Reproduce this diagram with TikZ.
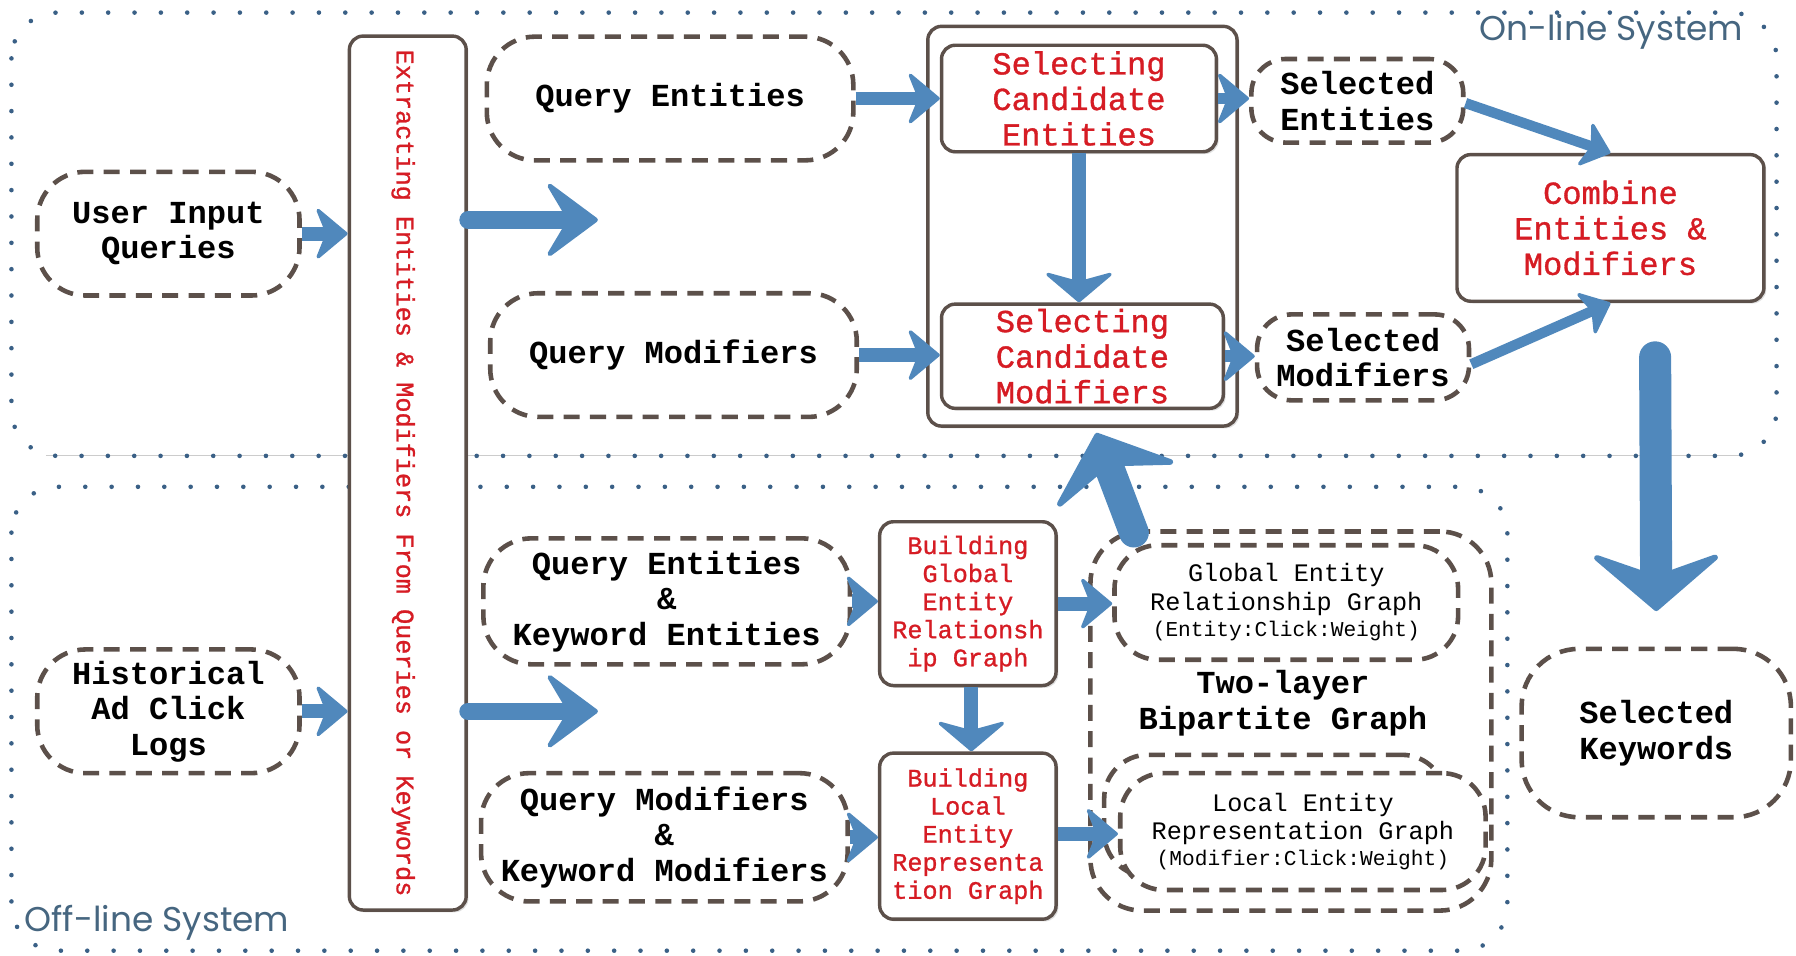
\documentclass[tikz,border=0pt]{standalone}
\usepackage{fontspec}
\setmainfont{Liberation Mono}
\newfontfamily\lblfont{Liberation Mono}
\newfontfamily\redfont{Liberation Mono}[FakeBold=1]
\newfontfamily\sysfont{Poppins}
\usetikzlibrary{arrows.meta,shadows,calc}

\definecolor{arrowblue}{RGB}{80,136,188}
\definecolor{boxline}{RGB}{92,80,74}
\definecolor{redtxt}{RGB}{214,28,36}
\definecolor{dotblue}{RGB}{58,96,134}
\definecolor{systxt}{RGB}{70,102,128}

\tikzset{
  region/.style={draw=dotblue, line width=4pt, line cap=round,
    dash pattern=on 0pt off 23pt, rounded corners=40pt},
  dashbox/.style={draw=boxline, line width=4pt, dash pattern=on 14pt off 9pt,
    rounded corners=42pt, fill=white, align=center, inner sep=0pt,
    font=\lblfont\bfseries\fontsize{28}{31}\selectfont},
  solidbox/.style={draw=boxline, line width=3pt, rounded corners=12pt,
    fill=white, align=center, inner sep=0pt, text=redtxt,
    drop shadow={shadow xshift=2pt, shadow yshift=-2pt, opacity=0.25},
    font=\redfont\fontsize{28}{31}\selectfont},
  smallbox/.style={solidbox, font=\redfont\fontsize{22}{24.5}\selectfont},
  graphbox/.style={dashbox, rounded corners=38pt,
    font=\lblfont\fontsize{22}{25}\selectfont},
  systext/.style={text=systxt, font=\sysfont\fontsize{30}{32}\selectfont, anchor=west},
  flow/.style={draw=arrowblue, line width=12pt,
    -{Stealth[round, length=30pt, width=50pt, inset=10pt, line width=3pt]}},
  bigflow/.style={draw=arrowblue, line width=15pt, line cap=round,
    -{Stealth[round, length=50pt, width=74pt, inset=22pt, line width=4pt]}},
  downflow/.style={draw=arrowblue, line width=12pt,
    -{Stealth[round, length=28pt, width=66pt, inset=9pt, line width=3pt]}},
  diagflow/.style={draw=arrowblue, line width=9pt,
    -{Stealth[round, length=26pt, width=44pt, inset=7pt, line width=3pt]}},
  hugeflow/.style={draw=arrowblue, line width=28pt, line cap=round,
    -{Stealth[round, length=54pt, width=126pt, inset=22pt, line width=5pt]}},
}

\begin{document}
\begin{tikzpicture}[x=1pt, y=-1pt]
\useasboundingbox (0,0) rectangle (1568,834);

% system regions
\draw[gray!40, line width=0.8pt] (40,398) -- (1520,398);
\draw[region] (10,11) rectangle (1551,398);
\draw[region] (10,425) rectangle (1316,830);
\node[systext] (online) at (1288,28) {On-line System};
\node[systext] (offline) at (18,806) {Off-line System};

% inputs
\node[dashbox, minimum width=229pt, minimum height=108pt] (uiq) at (147,204) {User Input\\Queries};
\node[dashbox, minimum width=229pt, minimum height=108pt] (hacl) at (147,621) {Historical\\Ad Click\\Logs};

% extraction bar
\node[solidbox, minimum width=102pt, minimum height=763pt] (ext) at (356,413) {};
\node[rotate=-90, text=redtxt, font=\redfont\fontsize{22}{24}\selectfont] (exttxt) at (352,413)
  {Extracting Entities \& Modifiers From Queries or Keywords};

% on-line branch
\node[dashbox, minimum width=320pt, minimum height=108pt] (qe) at (585,86) {Query Entities};
\node[dashbox, minimum width=320pt, minimum height=108pt] (qm) at (588,310) {Query Modifiers};

\node[draw=boxline, line width=3pt, rounded corners=12pt, fill=white,
  drop shadow={shadow xshift=2pt, shadow yshift=-2pt, opacity=0.25},
  minimum width=270pt, minimum height=349pt, inner sep=0pt] (selgrp) at (945,197.5) {};
\node[solidbox, minimum width=240pt, minimum height=93pt] (sce) at (942,86) {Selecting\\Candidate\\Entities};
\node[solidbox, minimum width=246pt, minimum height=91pt] (scm) at (945,311) {Selecting\\Candidate\\Modifiers};

\node[dashbox, rounded corners=30pt, minimum width=185pt, minimum height=73pt] (se) at (1185,88) {Selected\\Entities};
\node[dashbox, rounded corners=30pt, minimum width=185pt, minimum height=75pt] (sm) at (1190,312) {Selected\\Modifiers};

\node[solidbox, minimum width=268pt, minimum height=128pt] (comb) at (1406,199) {Combine\\Entities \&\\Modifiers};

\node[dashbox, rounded corners=50pt, minimum width=235pt, minimum height=147pt] (sk) at (1446,640) {Selected\\Keywords};

% off-line branch
\node[dashbox, minimum width=320pt, minimum height=110pt] (qeke) at (582,525) {Query Entities\\\&\\Keyword Entities};
\node[dashbox, minimum width=320pt, minimum height=112pt] (qmkm) at (580,731) {Query Modifiers\\\&\\Keyword Modifiers};

\node[smallbox, minimum width=154pt, minimum height=143pt] (bg) at (845,527) {Building\\Global\\Entity\\Relationsh\\ip Graph};
\node[smallbox, minimum width=154pt, minimum height=145pt] (bl) at (845,730) {Building\\Local\\Entity\\Representa\\tion Graph};

% two-layer bipartite graph
\node[draw=boxline, line width=4pt, dash pattern=on 14pt off 9pt, rounded corners=45pt,
  minimum width=350pt, minimum height=331pt, inner sep=0pt] (bip) at (1127,629.5) {};
\node[graphbox, minimum width=300pt, minimum height=100pt] (geg) at (1123,526)
  {Global Entity\\Relationship Graph\\[-2pt]{\fontsize{18.5}{20}\selectfont(Entity:Click:Weight)}};
\node[graphbox, fill=none, minimum width=298pt, minimum height=106pt] (legb) at (1113,712) {};
\node[graphbox, minimum width=319pt, minimum height=102pt] (leg) at (1137.5,726)
  {Local Entity\\Representation Graph\\[-2pt]{\fontsize{18.5}{20}\selectfont(Modifier:Click:Weight)}};
\node[font=\lblfont\bfseries\fontsize{28}{31}\selectfont, align=center] (twol) at (1120,614)
  {Two-layer\\Bipartite Graph};

% connectors
\draw[flow] (uiq.east) -- (ext.west |- uiq.east);
\draw[flow] (hacl.east) -- (ext.west |- hacl.east);
\coordinate (bigA) at (522,192);
\coordinate (bigB) at (522,621);
\draw[bigflow] (ext.east |- bigA) -- (bigA);
\draw[bigflow] (ext.east |- bigB) -- (bigB);

\draw[flow] (qe.east) -- (sce.west |- qe.east);
\draw[flow] (qm.east) -- (scm.west |- qm.east);
\draw[downflow] (sce.south) -- (sce.south |- scm.north);
\draw[flow, line width=10pt] (sce.east) -- (se.west |- sce.east);
\draw[flow, line width=10pt] (scm.east) -- (sm.west |- scm.east);
\draw[diagflow] ([yshift=-2pt]se.east) -- (comb.north);
\draw[diagflow] ([yshift=-6pt]sm.east) -- (comb.south);

\coordinate (dstart) at (1445,312);
\draw[hugeflow] (dstart) -- ([yshift=31pt]sk.north);

\draw[flow] (qeke.east) -- (bg.west |- qeke.east);
\draw[flow] (qmkm.east) -- (bl.west |- qmkm.east);
\draw[downflow] ([xshift=3pt]bg.south) -- ([xshift=3pt]bl.north);
\draw[flow] (bg.east) -- (geg.west |- bg.east);
\draw[flow] ([yshift=2pt]bl.east) -- ([yshift=2pt]leg.west |- bl.east);

\coordinate (upstart) at (990,465);
\coordinate (upend) at (957,378);
\draw[hugeflow, line width=26pt] (upstart) -- (upend);
\end{tikzpicture}
\end{document}
